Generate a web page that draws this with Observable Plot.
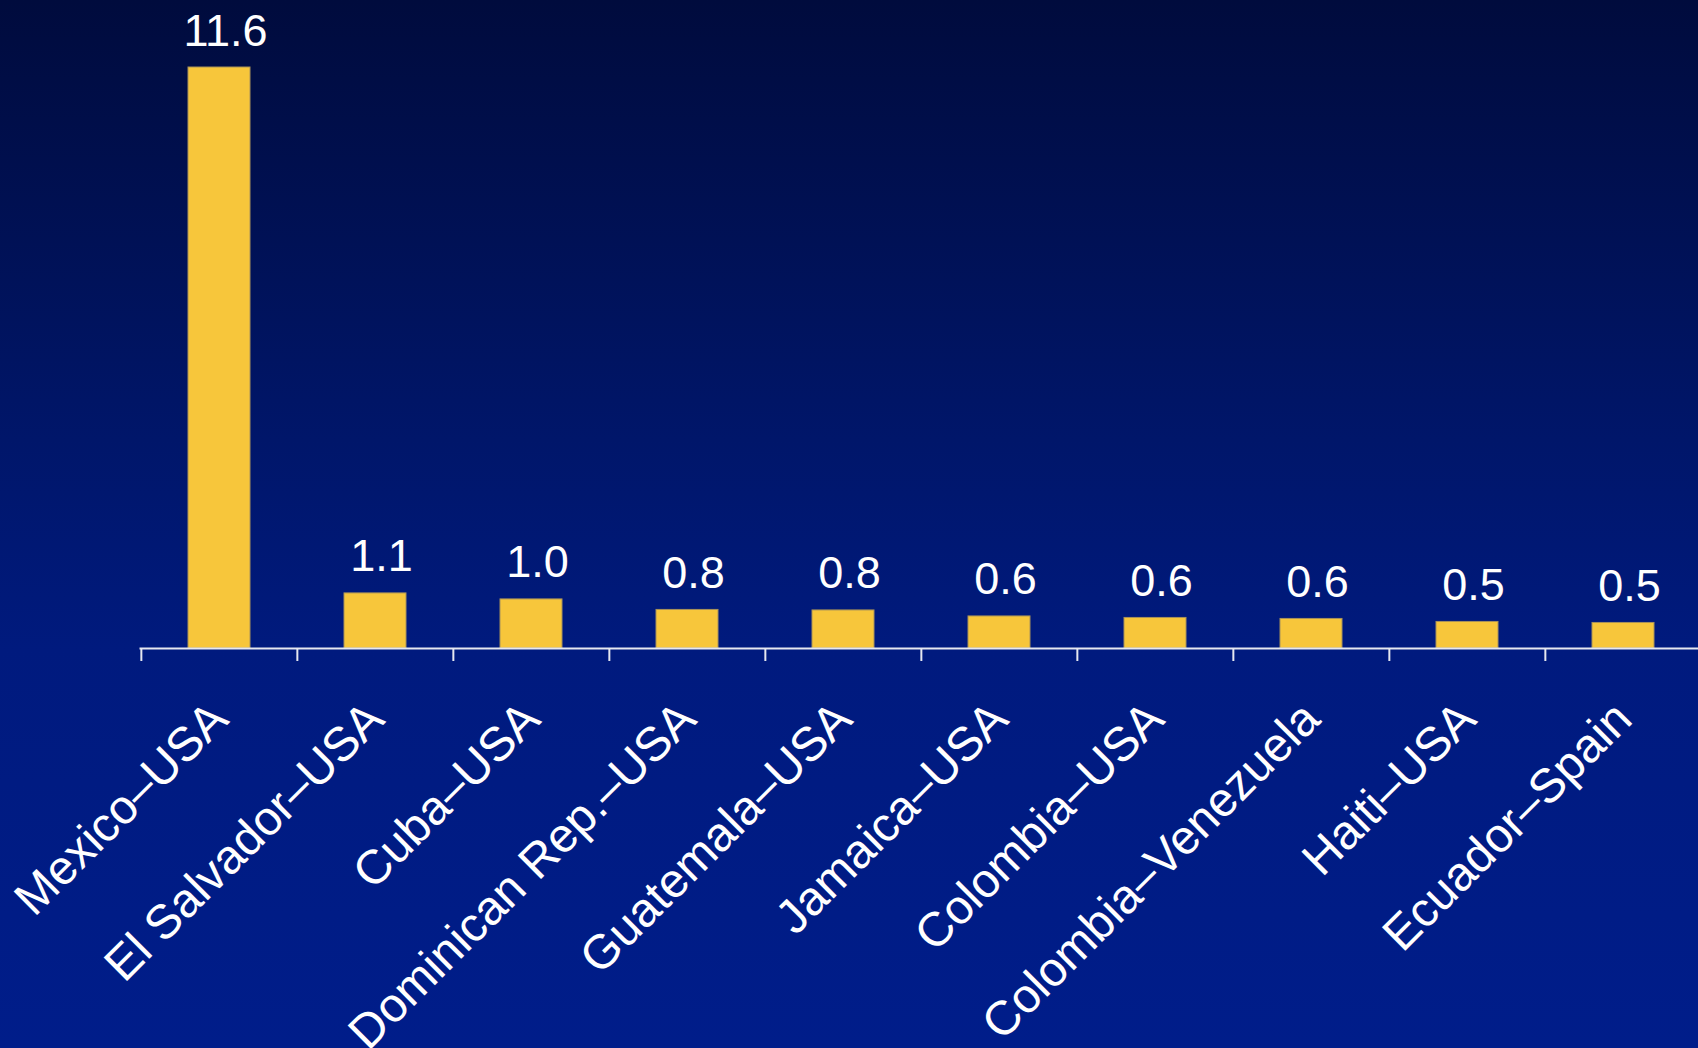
<!DOCTYPE html>
<html>
<head>
<meta charset="utf-8">
<script src="https://cdn.jsdelivr.net/npm/d3@7"></script>
<script src="https://cdn.jsdelivr.net/npm/@observablehq/plot@0.6"></script>
<style>
  html, body { margin: 0; padding: 0; width: 1698px; height: 1048px; overflow: hidden;
    background: linear-gradient(to bottom, #000b3d 0%, #00166a 42%, #001a7e 62%, #001d8a 100%); }
  #chart svg { display: block; }
</style>
</head>
<body>
<div id="chart"></div>
<script>
const routes = ["Mexico–USA", "El Salvador–USA", "Cuba–USA", "Dominican Rep.–USA", "Guatemala–USA",
  "Jamaica–USA", "Colombia–USA", "Colombia–Venezuela", "Haiti–USA", "Ecuador–Spain"];
const values = [11.6, 1.1, 0.98, 0.77, 0.76, 0.64, 0.61, 0.59, 0.53, 0.51];

const data = routes.map((route, i) => ({route, value: values[i]}));

const W = 1698, H = 1048;
const mLeft = 139.5, mRight = -4.5, mTop = 67, mBottom = 400;
const step = (W - mLeft - mRight) / routes.length;
const axisColor = "#e6e8f0";
const fmt = d3.format(".1f");

const chart = Plot.plot({
  width: W,
  height: H,
  marginLeft: mLeft,
  marginRight: mRight,
  marginTop: mTop,
  marginBottom: mBottom,
  style: {background: "transparent", fontFamily: "'Liberation Sans', Arial, sans-serif", overflow: "hidden"},
  x: {domain: routes, paddingInner: 0.6, paddingOuter: 0.3, axis: null},
  y: {domain: [0, 11.6], axis: null},
  marks: [
    Plot.barY(data, {x: "route", y: "value", fill: "#f7c63b", stroke: "#a8925a", strokeWidth: 1}),
    Plot.ruleY([0], {stroke: axisColor, strokeWidth: 2}),
    Plot.axisX({tickSize: 13, tickFormat: () => "", label: null, dx: -step / 2, stroke: axisColor, strokeWidth: 2}),
    Plot.text(data, {x: "route", y: "value", text: d => fmt(d.value), dy: -22, dx: 6,
      lineAnchor: "bottom", fontSize: 45, fill: "white"}),
    Plot.text(routes, {x: d => d, frameAnchor: "bottom", rotate: -45, textAnchor: "end",
      lineAnchor: "bottom", dx: 11, dy: 73, fontSize: 48, fill: "white"})
  ]
});
document.getElementById("chart").appendChild(chart);
</script>
</body>
</html>
